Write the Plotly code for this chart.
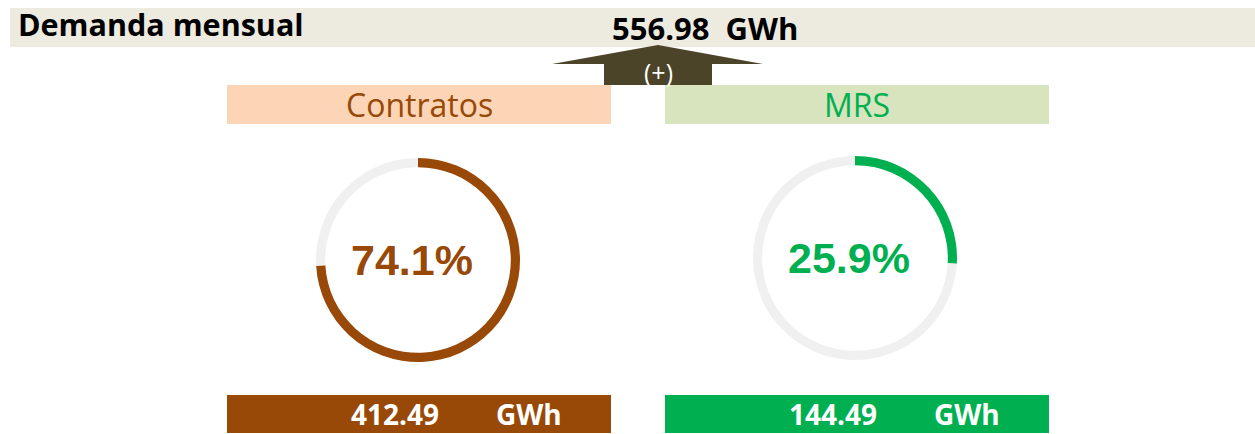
import plotly.graph_objects as go

# ---- data ----
categories = ["Contratos", "MRS"]
energy_gwh = [412.49, 144.49]
share_pct = [74.1, 25.9]
total_gwh = 556.98
unit = "GWh"
title = "Demanda mensual"
sum_label = "(+)"

# ---- styles ----
W, H = 1255, 434
main_colors = ["#984807", "#00B050"]
header_colors = ["#FBD5B5", "#D7E4BD"]
track_color = "#F0F0F0"
banner_color = "#EDEAE0"
arrow_color = "#4B4429"
font_txt = "Open Sans"

panel_x = [(227, 611), (665, 1049)]
donut_c = [(418, 260), (855, 258)]
donut_r = 102

fig = go.Figure()

shapes = []
annotations = []

# banner
shapes.append(dict(type="rect", xref="x", yref="y", x0=10, x1=W, y0=8, y1=47,
                   fillcolor=banner_color, line_width=0, layer="below"))
annotations.append(dict(x=16, y=24, xref="x", yref="y", text=f"<b>{title}</b>",
                        showarrow=False, xanchor="left", yanchor="middle",
                        font=dict(family=font_txt, size=30.5, color="#000000")))

# arrow
shapes.append(dict(type="path", xref="x", yref="y",
                   path="M 552 64 L 658 45 L 763 64 L 712 64 L 712 85 L 604 85 L 604 64 Z",
                   fillcolor=arrow_color, line_width=0))
annotations.append(dict(x=658, y=72, xref="x", yref="y", text=sum_label, showarrow=False,
                        xanchor="center", yanchor="middle",
                        font=dict(family=font_txt, size=25, color="#FFFFFF")))
annotations.append(dict(x=705, y=28, xref="x", yref="y",
                        text=f"<b>{total_gwh:.2f}&nbsp; {unit}</b>", showarrow=False,
                        xanchor="center", yanchor="middle",
                        font=dict(family=font_txt, size=31, color="#000000")))

for i, cat in enumerate(categories):
    x0, x1 = panel_x[i]
    # header
    shapes.append(dict(type="rect", xref="x", yref="y", x0=x0, x1=x1, y0=85, y1=124,
                       fillcolor=header_colors[i], line_width=0, layer="below"))
    annotations.append(dict(x=(x0 + x1) / 2, y=104, xref="x", yref="y", text=cat,
                            showarrow=False, xanchor="center", yanchor="middle",
                            font=dict(family=font_txt, size=32, color=main_colors[i])))
    # bottom bar
    shapes.append(dict(type="rect", xref="x", yref="y", x0=x0, x1=x1, y0=395, y1=433,
                       fillcolor=main_colors[i], line_width=0, layer="below"))
    annotations.append(dict(x=x0 + 168, y=414, xref="x", yref="y",
                            text=f"<b>{energy_gwh[i]:.2f}</b>", showarrow=False,
                            xanchor="center", yanchor="middle",
                            font=dict(family=font_txt, size=28, color="#FFFFFF")))
    annotations.append(dict(x=x0 + 302, y=414, xref="x", yref="y",
                            text=f"<b>{unit}</b>", showarrow=False,
                            xanchor="center", yanchor="middle",
                            font=dict(family=font_txt, size=28, color="#FFFFFF")))
    # donut
    cx, cy = donut_c[i]
    fig.add_trace(go.Pie(
        values=[share_pct[i], 100 - share_pct[i]],
        labels=[cat, "resto"],
        hole=0.91, sort=False, direction="clockwise", rotation=0,
        marker=dict(colors=[main_colors[i], track_color], line=dict(width=0)),
        textinfo="none", hoverinfo="skip", showlegend=False,
        domain=dict(x=[(cx - donut_r) / W, (cx + donut_r) / W],
                    y=[(H - cy - donut_r) / H, (H - cy + donut_r) / H]),
    ))
    annotations.append(dict(x=cx - 6, y=cy, xref="x", yref="y",
                            text=f"<b>{share_pct[i]:.1f}%</b>", showarrow=False,
                            xanchor="center", yanchor="middle",
                            font=dict(family="Liberation Sans", size=43, color=main_colors[i])))

fig.update_layout(
    width=W, height=H,
    margin=dict(l=0, r=0, t=0, b=0),
    paper_bgcolor="#FFFFFF", plot_bgcolor="#FFFFFF",
    xaxis=dict(range=[0, W], visible=False, fixedrange=True),
    yaxis=dict(range=[H, 0], visible=False, fixedrange=True),
    shapes=shapes, annotations=annotations,
)

fig.write_html("out.html", config={"displayModeBar": False},
               post_script="document.body.style.margin='0';document.body.style.overflow='hidden';")
